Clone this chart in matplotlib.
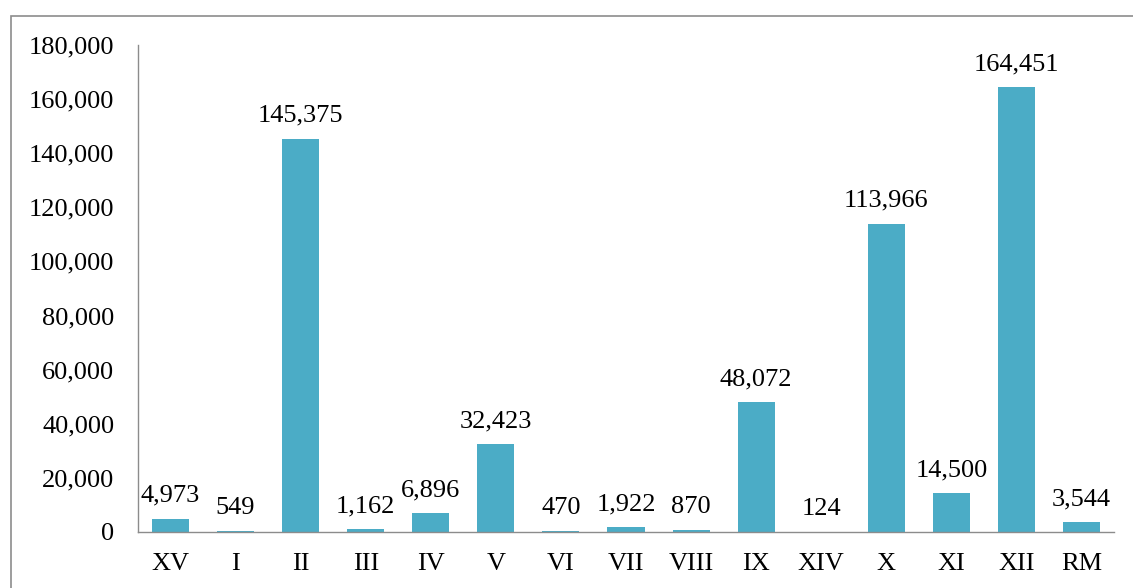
import matplotlib
matplotlib.use("Agg")
import matplotlib.pyplot as plt
from matplotlib.patches import Rectangle
from matplotlib.ticker import FuncFormatter

categories = ["XV", "I", "II", "III", "IV", "V", "VI", "VII", "VIII", "IX", "XIV", "X", "XI", "XII", "RM"]
values = [4973, 549, 145375, 1162, 6896, 32423, 470, 1922, 870, 48072, 124, 113966, 14500, 164451, 3544]

plt.rcParams['font.family'] = ['Liberation Serif', 'DejaVu Serif']

W, H = 1133, 588
fig = plt.figure(figsize=(W/100, H/100), dpi=100)
ax = fig.add_axes([138/W, 1-532/H, (1114-138)/W, (532-45)/H])

x = list(range(len(categories)))
ax.bar(x, values, width=0.57, color="#4BACC6")
for xi, v in zip(x, values):
    ax.annotate(f"{v:,}", (xi, v), xytext=(0, 8.5), textcoords="offset points",
                ha="center", va="bottom", fontsize=19, color="black")

ax.set_xlim(-0.5, len(categories)-0.5)
ax.set_ylim(0, 180000)
ax.set_yticks(range(0, 180001, 20000))
ax.yaxis.set_major_formatter(FuncFormatter(lambda v, p: f"{int(v):,}"))
ax.set_xticks(x)
ax.set_xticklabels(categories)
ax.tick_params(axis="both", length=0, labelsize=19, colors="black")
ax.tick_params(axis="y", pad=17)
ax.tick_params(axis="x", pad=15)
for s in ["top", "right"]:
    ax.spines[s].set_visible(False)
for s in ["left", "bottom"]:
    ax.spines[s].set_color("#8c8c8c")
    ax.spines[s].set_linewidth(1.0)

fig.patches.append(Rectangle((11/W, -0.1), 1.2, 1-16/H+0.1, transform=fig.transFigure,
                             fill=False, edgecolor="#8c8c8c", linewidth=1.2, clip_on=False))

fig.savefig("out.png", dpi=100)
